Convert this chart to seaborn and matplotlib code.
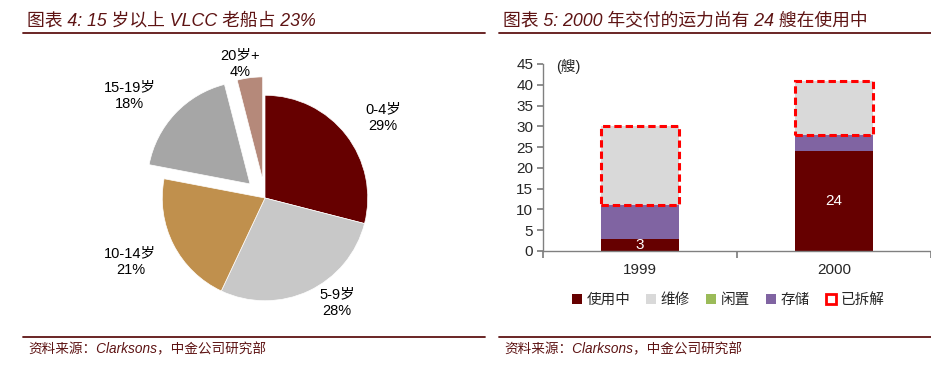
import numpy as np
import pandas as pd
import matplotlib
matplotlib.use('Agg')
import matplotlib.pyplot as plt
import seaborn as sns
from matplotlib.patches import Patch
from matplotlib.lines import Line2D

# ── Data ──────────────────────────────────────────────────────────────────
age_labels = ["0-4岁", "5-9岁", "10-14岁", "15-19岁", "20岁+"]
age_share = [29, 28, 21, 18, 4]
age_colors = ["#660000", "#C8C8C8", "#C0904D", "#A6A6A6", "#B5897A"]
age_explode = [0, 0, 0, 0.2, 0.18]
# label placement: distance from wedge centre, angular shift (deg)
age_label_r = [1.39, 1.24, 1.45, 1.45, 1.15]
age_label_shift = [-3.7, 9.2, -1.6, 7.0, 3.9]

years = ["1999", "2000"]
in_use = [3, 24]
repair = [0, 0]
idle = [0, 0]
stored = [8, 4]
scrapped = [19, 13]
status_names = ["使用中", "维修", "闲置", "存储", "已拆解"]
status_colors = ["#660000", "#D9D9D9", "#9BBB59", "#8064A2", "#FF0000"]

TITLE_RED = "#5E1414"
W, H = 931, 386

sns.set_theme(style="white")
plt.rcParams['font.family'] = ['Liberation Sans', 'Noto Sans CJK SC', 'DejaVu Sans']

fig = plt.figure(figsize=(W / 100, H / 100), dpi=100)

def fx(px):
    return px / W

def fy(py):
    return 1 - py / H

# ── Headers / footers ─────────────────────────────────────────────────────
for x0, x1, title in [(23, 485, "图表 4: 15 岁以上 VLCC 老船占 23%"),
                      (499, 931, "图表 5: 2000 年交付的运力尚有 24 艘在使用中")]:
    fig.text(fx(x0 + 4), fy(21), title, fontsize=12.8, style='italic',
             color=TITLE_RED, ha='left', va='center')
    fig.add_artist(Line2D([fx(x0), fx(x1)], [fy(33), fy(33)], color=TITLE_RED, lw=1.3))
    fig.add_artist(Line2D([fx(x0), fx(x1)], [fy(337), fy(337)], color=TITLE_RED, lw=1.3))
    fig.text(fx(x0 + 5), fy(349), "资料来源：Clarksons，中金公司研究部", fontsize=9.8,
             style='italic', color=TITLE_RED, ha='left', va='center')

# ── Pie ───────────────────────────────────────────────────────────────────
cx, cy, half = 265, 198, 150
ax1 = fig.add_axes([fx(cx - half), fy(cy + half), fx(2 * half), 2 * half / H])
wedges, _ = ax1.pie(age_share, colors=age_colors, explode=age_explode,
                    startangle=90, counterclock=False, radius=1,
                    wedgeprops=dict(linewidth=0.5, edgecolor='white'))
for w, lab, val, r, sh in zip(wedges, age_labels, age_share, age_label_r, age_label_shift):
    mid = np.deg2rad((w.theta1 + w.theta2) / 2 + sh)
    x = w.center[0] + r * np.cos(mid)
    y = w.center[1] + r * np.sin(mid)
    ax1.text(x, y, f"{lab}\n{val}%", ha='center', va='center', fontsize=10.5,
             linespacing=1.25, color='black')
ax1.set_xlim(-1.46, 1.46)
ax1.set_ylim(-1.46, 1.46)
ax1.set_aspect('equal')
ax1.axis('off')

# ── Stacked bars ──────────────────────────────────────────────────────────
ax2 = fig.add_axes([fx(543), fy(251), fx(931 - 543), (251 - 64) / H])
df = pd.DataFrame({"year": years, "in_use": in_use, "repair": repair,
                   "idle": idle, "stored": stored, "scrapped": scrapped})
df["lvl_stored"] = df["in_use"] + df["repair"] + df["idle"] + df["stored"]
df["lvl_total"] = df["lvl_stored"] + df["scrapped"]

for col, c in [("lvl_total", status_colors[1]), ("lvl_stored", status_colors[3]),
               ("in_use", status_colors[0])]:
    sns.barplot(data=df, x="year", y=col, color=c, width=0.4, saturation=1,
                linewidth=0, ax=ax2)
pos = np.arange(len(years))
ax2.bar(pos, df["scrapped"], bottom=df["lvl_stored"], width=0.4, fill=False,
        edgecolor=status_colors[4], linewidth=2.2, linestyle=(0, (2.4, 1.3)))

for p, v in zip(pos, in_use):
    ax2.text(p, v / 2, str(v), ha='center', va='center', color='white', fontsize=11)

ax2.set_xlim(-0.5, 1.5)
ax2.set_ylim(0, 45)
ax2.set_yticks(np.arange(0, 46, 5))
ax2.set_xticks([-0.5, 0.5, 1.5])
ax2.set_xticklabels([])
ax2.set_xticks(pos, minor=True)
ax2.set_xticklabels(years, minor=True)
ax2.set_xlabel("")
ax2.set_ylabel("")
ax2.tick_params(axis='x', which='major', direction='out', length=5, color='#808080',
                bottom=True)
ax2.tick_params(axis='x', which='minor', length=0, pad=9, labelsize=11)
ax2.tick_params(axis='y', direction='out', length=4, color='#808080', left=True,
                labelsize=11, pad=3)
for s in ['top', 'right']:
    ax2.spines[s].set_visible(False)
for s in ['left', 'bottom']:
    ax2.spines[s].set_color('#808080')
    ax2.spines[s].set_linewidth(1)
ax2.text(0.035, 0.985, "(艘)", transform=ax2.transAxes, ha='left', va='center',
         fontsize=10.5)

handles = [Patch(facecolor=c, edgecolor='none') for c in status_colors[:4]]
handles.append(Patch(facecolor='white', edgecolor=status_colors[4], linewidth=2))
fig.legend(handles, status_names, ncol=5, loc='center', bbox_to_anchor=(fx(728), fy(300)),
           frameon=False, fontsize=10.5, handlelength=0.7, handleheight=0.7,
           handletextpad=0.3, columnspacing=1.1)

fig.savefig("out.png", dpi=100)
